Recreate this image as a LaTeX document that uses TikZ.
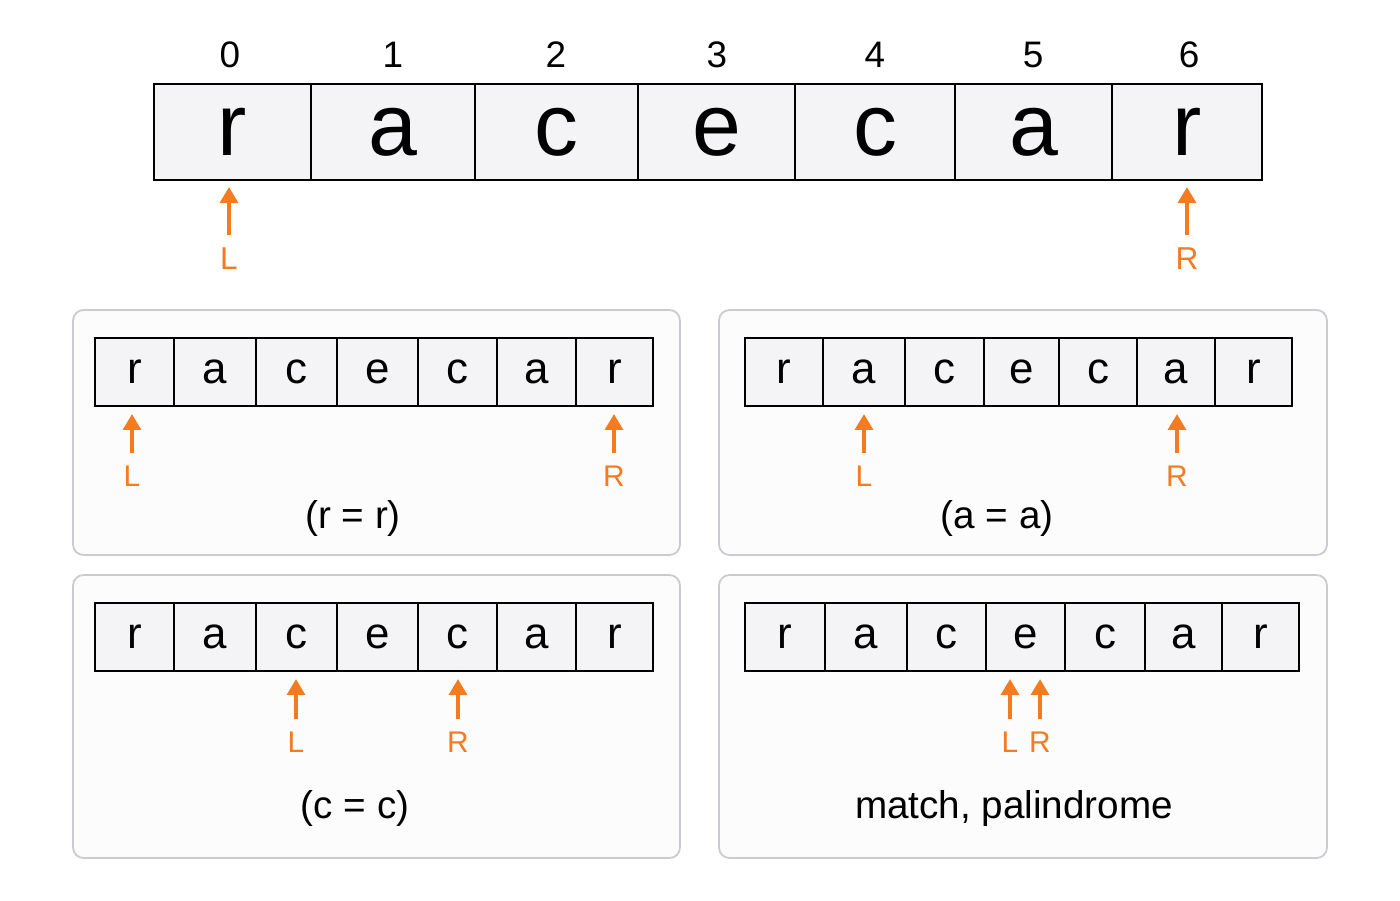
\documentclass[tikz,border=0pt]{standalone}
\usepackage{fontspec}
\setmainfont{Liberation Sans}
\usetikzlibrary{arrows.meta}
\definecolor{org}{HTML}{F47B20}
\definecolor{cellf}{HTML}{F4F4F6}
\definecolor{pan}{HTML}{C9CBD0}
\tikzset{
 cell/.style={draw=black,line width=1.5pt,fill=cellf,inner sep=0,outer sep=0,anchor=north west},
 pnl/.style={draw=pan,line width=1pt,rounded corners=6pt,fill=white!98!gray},
 ptr/.style={org,line width=2.2pt,-{Triangle[length=9pt,width=10pt]}},
 lab/.style={text=org,inner sep=1pt},
}
% #1 name, #2 top, #3 bottom, #4 list a/b/letter, #5 font
\newcommand{\myrow}[5]{%
 \foreach \a/\b/\t [count=\i] in {#4}{%
  \pgfmathsetmacro{\w}{(\b-\a)*0.02}\pgfmathsetmacro{\h}{(#3-#2)*0.02}%
  \node[cell,minimum width=\w cm,minimum height=\h cm] (#1\i) at (\a,#2) {};
  \node[font=#5] at (#1\i.center) {\t};
 }}
\newcommand{\myptr}[6]{% name, x, tip y, tail y, label y, text
 \coordinate (#1t) at (#2,#3);
 \node[lab,font=#6] (#1) at (#2,#5) {\MakeUppercase{#1}};
 \draw[ptr] (#2,#4) -- (#1t);
}
\begin{document}
\begin{tikzpicture}[x=0.02cm,y=-0.02cm]
\fill[white] (0,0) rectangle (1400,900);
\useasboundingbox (0,0) rectangle (1400,900);
% top
\myrow{t}{84}{180}{154/311/r,311/475/a,475/638/c,638/795/e,795/955/c,955/1112/a,1112/1262/r}{\fontsize{50}{50}\selectfont}
\foreach \x/\n in {230/0,393/1,556/2,717/3,875/4,1033/5,1189/6}
 \node[font=\fontsize{21}{21}\selectfont] (i\n) at (\x,55) {\n};
\coordinate (lt) at (229,187); \node[lab,font=\fontsize{18}{18}\selectfont] (l) at (229,259) {L};
\draw[ptr] (229,235) -- (lt);
\coordinate (rt) at (1187,187); \node[lab,font=\fontsize{18}{18}\selectfont] (r) at (1187,259) {R};
\draw[ptr] (1187,235) -- (rt);
% panels
\draw[pnl] (73,310) rectangle (680,555);
\draw[pnl] (719,310) rectangle (1327,555);
\draw[pnl] (73,575) rectangle (680,858);
\draw[pnl] (719,575) rectangle (1327,858);
\def\pf{\fontsize{25}{25}\selectfont}
\def\lf{\fontsize{17}{17}\selectfont}
\def\cf{\fontsize{22}{22}\selectfont}
% panel 1
\myrow{a}{338}{406}{95/174/r,174/256/a,256/337/c,337/418/e,418/497/c,497/576/a,576/653/r}{\pf}
\coordinate (aL) at (132,414); \node[lab,font=\lf] (aLl) at (132,476) {L}; \draw[ptr] (132,453) -- (aL);
\coordinate (aR) at (614,414); \node[lab,font=\lf] (aRl) at (614,476) {R}; \draw[ptr] (614,453) -- (aR);
\node[font=\cf] (ac) at (353,518) {(r = r)};
% panel 2
\myrow{b}{338}{406}{745/823/r,823/905/a,905/984/c,984/1059/e,1059/1137/c,1137/1215/a,1215/1292/r}{\pf}
\coordinate (bL) at (864,414); \node[lab,font=\lf] (bLl) at (864,476) {L}; \draw[ptr] (864,453) -- (bL);
\coordinate (bR) at (1177,414); \node[lab,font=\lf] (bRl) at (1177,476) {R}; \draw[ptr] (1177,453) -- (bR);
\node[font=\cf] (bc) at (997,518) {(a = a)};
% panel 3
\myrow{c}{603}{671}{95/174/r,174/256/a,256/337/c,337/418/e,418/497/c,497/576/a,576/653/r}{\pf}
\coordinate (cL) at (296,679); \node[lab,font=\lf] (cLl) at (296,742) {L}; \draw[ptr] (296,719) -- (cL);
\coordinate (cR) at (458,679); \node[lab,font=\lf] (cRl) at (458,742) {R}; \draw[ptr] (458,719) -- (cR);
\node[font=\cf] (cc) at (355,808) {(c = c)};
% panel 4
\myrow{d}{603}{671}{745/825/r,825/907/a,907/986/c,986/1065/e,1065/1145/c,1145/1222/a,1222/1299/r}{\pf}
\coordinate (dL) at (1010,679); \node[lab,font=\lf] (dLl) at (1010,742) {L}; \draw[ptr] (1010,719) -- (dL);
\coordinate (dR) at (1040,679); \node[lab,font=\lf] (dRl) at (1040,742) {R}; \draw[ptr] (1040,719) -- (dR);
\node[font=\cf] (dc) at (1014,808) {match, palindrome};
\end{tikzpicture}
\end{document}
